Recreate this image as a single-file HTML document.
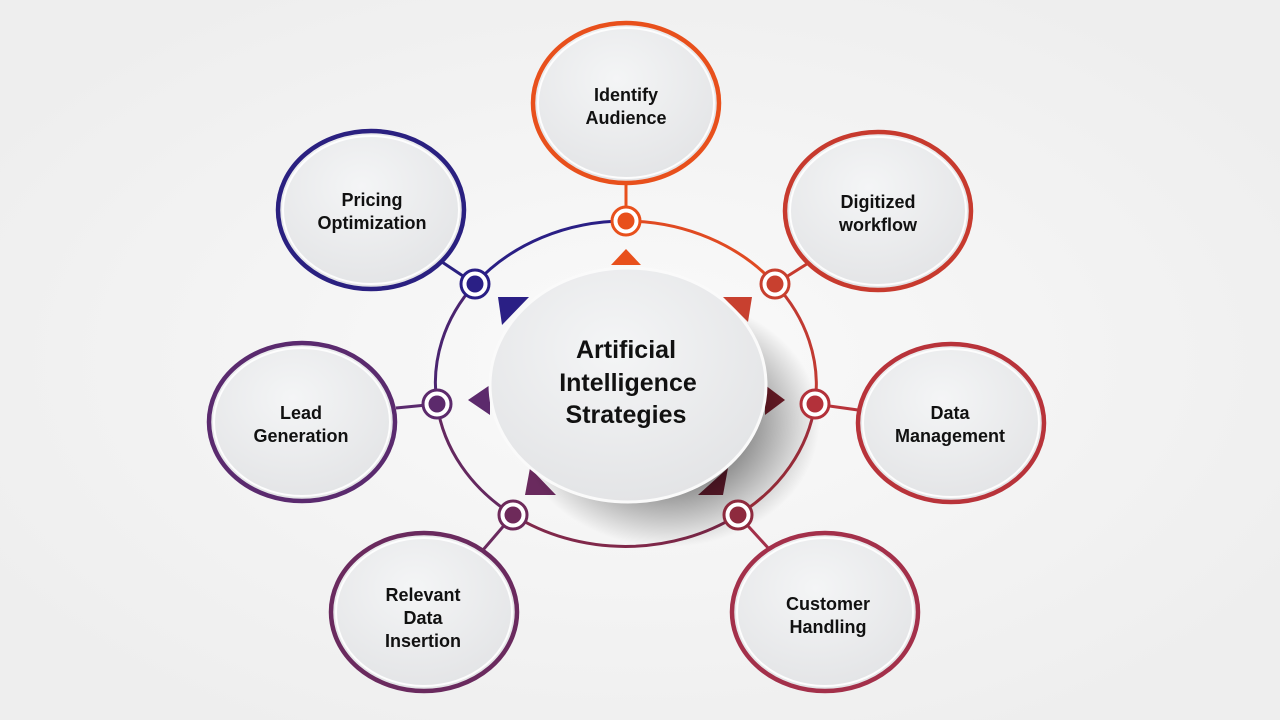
<!DOCTYPE html>
<html><head><meta charset="utf-8"><style>
html,body{margin:0;padding:0;width:1280px;height:720px;overflow:hidden;background:#f1f1f1}
svg{display:block}
text{font-family:"Liberation Sans",sans-serif;font-weight:bold;fill:#111;text-anchor:middle}
</style></head><body>
<svg width="1280" height="720" viewBox="0 0 1280 720" xmlns="http://www.w3.org/2000/svg">
<defs>
<radialGradient id="bg" cx="0.5" cy="0.5" r="0.6"><stop offset="0" stop-color="#fafafa"/><stop offset="1" stop-color="#eeeeee"/></radialGradient>
<radialGradient id="nf" cx="0.45" cy="0.35" r="0.7"><stop offset="0" stop-color="#f4f5f6"/><stop offset="1" stop-color="#e2e3e5"/></radialGradient>
<radialGradient id="sh" cx="0.5" cy="0.5" r="0.5"><stop offset="0.55" stop-color="#000" stop-opacity="0.4"/><stop offset="1" stop-color="#000" stop-opacity="0"/></radialGradient>
</defs>
<rect width="1280" height="720" fill="url(#bg)"/>
<g fill="none" stroke-width="3">
<path d="M626,221 A190,162 0 0 1 775,284" stroke="#e04a22"/>
<path d="M775,284 A190,162 0 0 1 815,404" stroke="#c13a32"/>
<path d="M815,404 A190,162 0 0 1 738,515" stroke="#a8303e"/>
<path d="M738,515 A190,162 0 0 1 513,515" stroke="#80284a"/>
<path d="M513,515 A190,162 0 0 1 437,404" stroke="#64285f"/>
<path d="M437,404 A190,162 0 0 1 475,284" stroke="#4a2470"/>
<path d="M475,284 A190,162 0 0 1 626,221" stroke="#2a1f85"/>
<line x1="626" y1="221" x2="626" y2="183" stroke="#e8501c"/>
<line x1="775" y1="284" x2="810" y2="262" stroke="#c73a2e"/>
<line x1="815" y1="404" x2="858" y2="410" stroke="#b8333a"/>
<line x1="738" y1="515" x2="770" y2="550" stroke="#a3304a"/>
<line x1="513" y1="515" x2="483" y2="550" stroke="#6a2a5e"/>
<line x1="437" y1="404" x2="396" y2="408" stroke="#5a2a6e"/>
<line x1="475" y1="284" x2="442" y2="262" stroke="#2a2080"/>
</g>
<g>
<polygon points="611,265 641,265 626,249" fill="#e8501c"/>
<polygon points="723,297 752,297 748,322" fill="#c8402f"/>
<polygon points="498,297 529,297 502,325" fill="#2a1f85"/>
<polygon points="468,400 490,385 490,415" fill="#5c2a6c"/>
<polygon points="785,400 765,385 765,415" fill="#7a1f2c"/>
<polygon points="525,495 530,468 556,495" fill="#6a2a5e"/>
<polygon points="728,468 723,495 698,495" fill="#6e1f32"/>
</g>
<ellipse cx="668" cy="422" rx="152" ry="125" fill="url(#sh)"/>
<ellipse cx="628" cy="385" rx="138" ry="117" fill="url(#nf)" stroke="#fafafa" stroke-width="3"/>
<text x="626" y="358" font-size="25">Artificial</text>
<text x="628" y="391" font-size="25">Intelligence</text>
<text x="626" y="423" font-size="25">Strategies</text>
<g stroke-width="4.5">
<ellipse cx="626" cy="103" rx="93" ry="80" fill="url(#nf)" stroke="#e8501c"/>
<ellipse cx="878" cy="211" rx="93" ry="79" fill="url(#nf)" stroke="#c73a2e"/>
<ellipse cx="951" cy="423" rx="93" ry="79" fill="url(#nf)" stroke="#b8333a"/>
<ellipse cx="825" cy="612" rx="93" ry="79" fill="url(#nf)" stroke="#a3304a"/>
<ellipse cx="424" cy="612" rx="93" ry="79" fill="url(#nf)" stroke="#6a2a5e"/>
<ellipse cx="302" cy="422" rx="93" ry="79" fill="url(#nf)" stroke="#5a2a6e"/>
<ellipse cx="371" cy="210" rx="93" ry="79" fill="url(#nf)" stroke="#2a2080"/>
</g>
<g fill="none" stroke="#fff" stroke-width="2" opacity="0.9">
<ellipse cx="626" cy="103" rx="88" ry="75"/>
<ellipse cx="878" cy="211" rx="88" ry="74"/>
<ellipse cx="951" cy="423" rx="88" ry="74"/>
<ellipse cx="825" cy="612" rx="88" ry="74"/>
<ellipse cx="424" cy="612" rx="88" ry="74"/>
<ellipse cx="302" cy="422" rx="88" ry="74"/>
<ellipse cx="371" cy="210" rx="88" ry="74"/>
</g>
<g stroke-width="3">
<circle cx="626" cy="221" r="14" fill="#fff" stroke="#e8501c"/><circle cx="626" cy="221" r="8.5" fill="#e8501c"/>
<circle cx="775" cy="284" r="14" fill="#fff" stroke="#c8402f"/><circle cx="775" cy="284" r="8.5" fill="#c8402f"/>
<circle cx="815" cy="404" r="14" fill="#fff" stroke="#b3313a"/><circle cx="815" cy="404" r="8.5" fill="#b3313a"/>
<circle cx="738" cy="515" r="14" fill="#fff" stroke="#8e2a3e"/><circle cx="738" cy="515" r="8.5" fill="#8e2a3e"/>
<circle cx="513" cy="515" r="14" fill="#fff" stroke="#6e2a5a"/><circle cx="513" cy="515" r="8.5" fill="#6e2a5a"/>
<circle cx="437" cy="404" r="14" fill="#fff" stroke="#5c2a6c"/><circle cx="437" cy="404" r="8.5" fill="#5c2a6c"/>
<circle cx="475" cy="284" r="14" fill="#fff" stroke="#2a1f85"/><circle cx="475" cy="284" r="8.5" fill="#2a1f85"/>
</g>
<g font-size="18">
<text x="626" y="101">Identify</text><text x="626" y="124">Audience</text>
<text x="878" y="208">Digitized</text><text x="878" y="231">workflow</text>
<text x="950" y="419">Data</text><text x="950" y="442">Management</text>
<text x="828" y="610">Customer</text><text x="828" y="633">Handling</text>
<text x="423" y="601">Relevant</text><text x="423" y="624">Data</text><text x="423" y="647">Insertion</text>
<text x="301" y="419">Lead</text><text x="301" y="442">Generation</text>
<text x="372" y="206">Pricing</text><text x="372" y="229">Optimization</text>
</g>
</svg>
</body></html>
